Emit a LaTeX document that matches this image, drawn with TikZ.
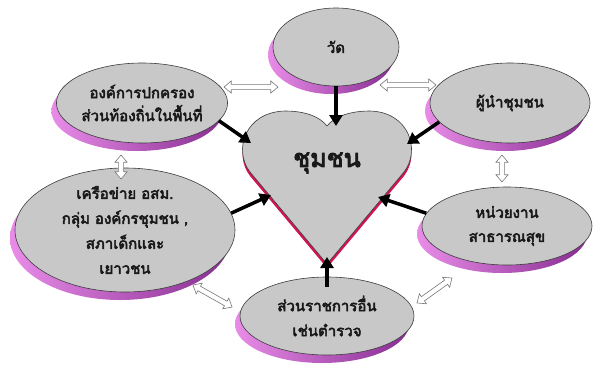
\documentclass[tikz,border=0pt]{standalone}
\usepackage{fontspec}
\newfontfamily\thai[Script=Thai, AutoFakeBold=3.5]{Loma}
\usetikzlibrary{shapes.geometric,shapes.arrows,shadows,arrows.meta}
\definecolor{ellfill}{RGB}{200,200,200}
\definecolor{ellline}{RGB}{60,60,60}
\definecolor{shlight}{RGB}{232,140,232}
\definecolor{shdark}{RGB}{135,45,145}
\definecolor{heartred}{RGB}{210,20,80}
\definecolor{darrline}{RGB}{120,120,120}
\definecolor{textcol}{RGB}{25,25,25}
\tikzset{
  bubble/.style={ellipse, draw=ellline, line width=0.6pt, fill=ellfill, align=center,
    inner sep=0pt, text=textcol, font=\thai\bfseries\fontsize{15}{23}\selectfont,
    general shadow={shadow xshift=-5pt, shadow yshift=-8pt, left color=shlight, right color=shdark, draw=none}},
  feed/.style={line width=3.5pt, -{Triangle[length=11pt,width=13pt]}},
  darr/.style={double arrow, draw=darrline, line width=0.6pt, fill=white, inner sep=2.3pt,
    double arrow head extend=3.5pt, double arrow head indent=0pt, double arrow tip angle=80},
}
\begin{document}
\begin{tikzpicture}[x=1pt,y=-1pt]
\useasboundingbox (0,0) rectangle (595,365);
% heart
\def\heartpath{(327,264) -- (250,172) .. controls (233,150) and (245,112) .. (285,111) .. controls (306,111) and (320,117) .. (327,126) .. controls (334,117) and (349,111) .. (370,111) .. controls (409,112) and (421,150) .. (404,172) -- cycle}
\fill[heartred] [yshift=-4pt] \heartpath;
\filldraw[fill=ellfill, draw=ellline, line width=0.6pt] \heartpath;
\node[text=textcol, font=\thai\bfseries\fontsize{25}{27}\selectfont] (heart) at (327,163) {ชุมชน};
% bubbles
\node[bubble, minimum width=126pt, minimum height=78pt] (wat) at (336,47) {วัด};
\node[bubble, minimum width=170pt, minimum height=80pt] (org) at (142,103) {องค์การปกครอง\\ส่วนท้องถิ่นในพื้นที่};
\node[bubble, minimum width=160pt, minimum height=80pt] (lead) at (510,103) {ผู้นำชุมชน};
\node[bubble, minimum width=220pt, minimum height=114pt, font=\thai\bfseries\fontsize{15}{25}\selectfont] (net) at (125,230) {เครือข่าย อสม.\\กลุ่ม องค์กรชุมชน ,\\สภาเด็กและ\\เยาวชน};
\node[bubble, minimum width=170pt, minimum height=78pt, font=\thai\bfseries\fontsize{15}{24}\selectfont] (health) at (507,226) {หน่วยงาน\\สาธารณสุข};
\node[bubble, minimum width=174pt, minimum height=78pt, font=\thai\bfseries\fontsize{15}{25}\selectfont] (other) at (327,316) {ส่วนราชการอื่น\\เช่นตำรวจ};
% arrow targets on the heart
\coordinate (hwat) at (336,126);
\coordinate (horg) at (251,143);
\coordinate (hlead) at (407,144);
\coordinate (hnet) at (271,195);
\coordinate (hhealth) at (378,197);
\coordinate (hother) at (327,257);
\draw[feed] (wat.south) -- (hwat);
\draw[feed] (org.-13) -- (horg);
\draw[feed] (lead.195) -- (hlead);
\draw[feed] (net.9) -- (hnet);
\draw[feed] (health.171) -- (hhealth);
\draw[feed] ([yshift=-10pt]other.north) -- (hother);
% double arrows
\coordinate (d1a) at (224,87); \coordinate (d1b) at (278,87);
\coordinate (d2a) at (380,85); \coordinate (d2b) at (436,85);
\coordinate (d3a) at (121,155); \coordinate (d3b) at (121,179);
\coordinate (d4a) at (502,155); \coordinate (d4b) at (502,182);
\coordinate (d5a) at (193,285); \coordinate (d5b) at (232,307);
\coordinate (d6a) at (417,303); \coordinate (d6b) at (452,278);
\path (d1a) -- (d1b) node[darr, midway, sloped, minimum height=54pt] (ow) {};
\path (d2a) -- (d2b) node[darr, midway, sloped, minimum height=56pt] (wl) {};
\path (d3a) -- (d3b) node[darr, midway, sloped, minimum height=24pt] (on) {};
\path (d4a) -- (d4b) node[darr, midway, sloped, minimum height=27pt] (lh) {};
\path (d5a) -- (d5b) node[darr, midway, sloped, minimum height=45pt] (no) {};
\path (d6a) -- (d6b) node[darr, midway, sloped, minimum height=43pt] (ho) {};
\end{tikzpicture}
\end{document}
